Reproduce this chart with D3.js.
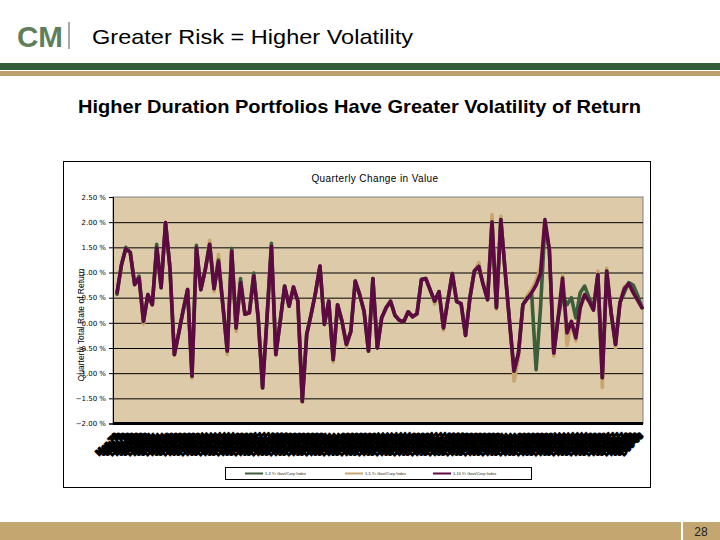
<!DOCTYPE html>
<html>
<head>
<meta charset="utf-8">
<script src="https://cdn.jsdelivr.net/npm/d3@7"></script>
<style>
  body { margin: 0; background: #fff; }
  svg { display: block; font-family: "Liberation Sans", Arial, sans-serif; }
</style>
</head>
<body>
<svg id="chart" width="720" height="540"></svg>
<script>
// Quarter labels along the x axis
const years = d3.range(1979, 2009);
const quarterMonths = ['Mar', 'Jun', 'Sep', 'Dec'];

// Quarterly total rate of return (%)
const shortSeries = [0.57, 1.15, 1.50, 1.40, 0.76, 0.93, 0.03, 0.56, 0.36, 1.56,
  0.70, 1.99, 1.09, -0.63, -0.20, 0.25, 0.66, -1.06, 1.54, 0.66,
  1.05, 1.56, 0.68, 1.25, 0.35, -0.56, 1.48, -0.10, 0.88, 0.17,
  0.20, 0.99, 0.10, -1.29, 0.10, 1.58, -0.63, 0.03, 0.73, 0.33,
  0.71, 0.43, -1.56, -0.23, 0.17, 0.60, 1.13, -0.03, 0.43, -0.73,
  0.36, 0.03, -0.43, -0.17, 0.83, 0.56, 0.23, -0.56, 0.88, -0.50,
  0.10, 0.30, 0.43, 0.15, 0.05, 0.02, 0.22, 0.12, 0.18, 0.87,
  0.88, 0.65, 0.43, 0.62, -0.10, 0.45, 0.98, 0.42, 0.38, -0.25,
  0.50, 1.03, 1.12, 0.76, 0.46, 2.00, 0.30, 2.05, 1.00, 0.00,
  -0.96, -0.60, 0.36, 0.50, 0.56, -0.93, 0.30, 1.95, 1.45, -0.60,
  0.10, 0.55, 0.36, 0.50, 0.10, 0.60, 0.73, 0.50, 0.30, 0.96,
  -1.09, 1.03, 0.20, -0.43, 0.40, 0.60, 0.80, 0.75, 0.55, 0.30];

const midSeries = [0.57, 1.15, 1.47, 1.40, 0.76, 0.89, -0.02, 0.56, 0.36, 1.49,
  0.70, 1.99, 1.09, -0.65, -0.20, 0.25, 0.66, -1.10, 1.49, 0.66,
  1.05, 1.64, 0.62, 1.36, 0.35, -0.63, 1.42, -0.17, 0.80, 0.17,
  0.20, 0.93, 0.10, -1.30, 0.10, 1.52, -0.65, 0.03, 0.73, 0.33,
  0.71, 0.43, -1.58, -0.23, 0.17, 0.60, 1.13, -0.03, 0.43, -0.78,
  0.36, 0.03, -0.48, -0.17, 0.83, 0.56, 0.23, -0.56, 0.88, -0.50,
  0.10, 0.30, 0.43, 0.15, 0.05, 0.02, 0.22, 0.12, 0.18, 0.85,
  0.88, 0.65, 0.37, 0.62, -0.15, 0.45, 0.98, 0.42, 0.38, -0.25,
  0.50, 1.03, 1.20, 0.76, 0.46, 2.15, 0.27, 2.12, 1.00, 0.00,
  -1.16, -0.70, 0.36, 0.55, 0.66, 0.85, 1.10, 2.05, 1.45, -0.66,
  0.10, 0.95, -0.45, 0.03, -0.36, 0.30, 0.56, 0.43, 0.25, 1.03,
  -1.29, 1.09, 0.20, -0.50, 0.40, 0.72, 0.78, 0.60, 0.45, 0.30];

const longSeries = [0.60, 1.15, 1.47, 1.40, 0.76, 0.89, 0.03, 0.56, 0.36, 1.49,
  0.70, 1.99, 1.09, -0.63, -0.20, 0.25, 0.66, -1.06, 1.49, 0.66,
  1.05, 1.56, 0.68, 1.22, 0.35, -0.56, 1.42, -0.10, 0.80, 0.17,
  0.20, 0.93, 0.10, -1.29, 0.10, 1.52, -0.63, 0.03, 0.73, 0.33,
  0.71, 0.43, -1.56, -0.23, 0.17, 0.60, 1.13, -0.03, 0.43, -0.73,
  0.36, 0.03, -0.43, -0.17, 0.83, 0.56, 0.23, -0.56, 0.88, -0.50,
  0.10, 0.30, 0.43, 0.15, 0.05, 0.02, 0.22, 0.12, 0.18, 0.85,
  0.88, 0.65, 0.43, 0.62, -0.10, 0.45, 0.98, 0.42, 0.38, -0.25,
  0.50, 1.03, 1.12, 0.76, 0.46, 2.00, 0.30, 2.05, 1.00, 0.00,
  -0.96, -0.60, 0.36, 0.48, 0.60, 0.75, 0.98, 2.05, 1.45, -0.60,
  0.10, 0.89, -0.20, 0.03, -0.30, 0.30, 0.56, 0.43, 0.25, 0.96,
  -1.09, 1.03, 0.20, -0.43, 0.40, 0.68, 0.78, 0.60, 0.45, 0.30];

const seriesNames = ['1-3 Yr Govt/Corp Index', '1-5 Yr Govt/Corp Index', '1-10 Yr Govt/Corp Index'];
const seriesColors = ['#3d5e3a', '#c9a66f', '#5e0a42'];
const yTicks = [2.5, 2.0, 1.5, 1.0, 0.5, 0.0, -0.5, -1.0, -1.5, -2.0];

const categories = d3.cross(years, quarterMonths).map(([yr, m]) => `${m}-${String(yr).slice(2)}`);
const series = [
  { name: seriesNames[1], color: seriesColors[1], values: midSeries },
  { name: seriesNames[0], color: seriesColors[0], values: shortSeries },
  { name: seriesNames[2], color: seriesColors[2], values: longSeries }
];

const svg = d3.select('#chart');

// ---- slide header ----
svg.append('text')
    .attr('x', 17).attr('y', 47)
    .attr('font-size', 30).attr('font-weight', 'bold')
    .attr('textLength', 46).attr('lengthAdjust', 'spacingAndGlyphs')
    .attr('fill', '#5f7f5c')
    .text('CM');
svg.append('line')
    .attr('x1', 69).attr('x2', 69).attr('y1', 22).attr('y2', 49)
    .attr('stroke', '#555').attr('stroke-width', 1);
svg.append('text')
    .attr('x', 92).attr('y', 44)
    .attr('font-size', 21)
    .attr('textLength', 321).attr('lengthAdjust', 'spacingAndGlyphs')
    .attr('fill', '#000')
    .text('Greater Risk = Higher Volatility');
svg.append('rect').attr('x', 0).attr('y', 63).attr('width', 720).attr('height', 7).attr('fill', '#335c3b');
svg.append('rect').attr('x', 0).attr('y', 71).attr('width', 720).attr('height', 5).attr('fill', '#b9a06d');

svg.append('text')
    .attr('x', 78).attr('y', 113)
    .attr('font-size', 19).attr('font-weight', 'bold')
    .attr('textLength', 563).attr('lengthAdjust', 'spacingAndGlyphs')
    .text('Higher Duration Portfolios Have Greater Volatility of Return');

// ---- footer ----
svg.append('rect').attr('x', 0).attr('y', 522).attr('width', 681).attr('height', 18).attr('fill', '#c4a670');
svg.append('rect').attr('x', 683).attr('y', 522).attr('width', 37).attr('height', 18).attr('fill', '#c4a670');
svg.append('text')
    .attr('x', 701).attr('y', 536)
    .attr('text-anchor', 'middle').attr('font-size', 12)
    .attr('fill', '#222')
    .text('28');

// ---- chart frame ----
svg.append('rect')
    .attr('x', 63.5).attr('y', 161.5).attr('width', 587).attr('height', 326)
    .attr('fill', '#fff').attr('stroke', '#000').attr('stroke-width', 1);

svg.append('text')
    .attr('x', 375).attr('y', 182)
    .attr('text-anchor', 'middle').attr('font-size', 10)
    .attr('letter-spacing', 0.4)
    .text('Quarterly Change in Value');

const plot = { left: 113, right: 643, top: 197, bottom: 423.5 };

const x = d3.scalePoint().domain(categories).range([117, 642]);
const y = d3.scaleLinear().domain([-2, 2.5]).range([plot.bottom, plot.top]);

svg.append('rect')
    .attr('x', plot.left).attr('y', plot.top)
    .attr('width', plot.right - plot.left).attr('height', plot.bottom - plot.top)
    .attr('fill', '#dccaa9').attr('stroke', '#808080').attr('stroke-width', 1);

// gridlines
svg.append('g')
    .attr('transform', `translate(${plot.left},0)`)
    .call(d3.axisLeft(y).tickValues(yTicks.filter(d => d < 2.5 && d > -2)).tickSize(-(plot.right - plot.left)).tickFormat(''))
    .call(g => g.select('.domain').remove())
    .call(g => g.selectAll('line').attr('stroke', '#000').attr('stroke-width', 1));

// y axis
svg.append('g')
    .attr('transform', `translate(${plot.left},0)`)
    .call(d3.axisLeft(y).tickValues(yTicks).tickSize(4).tickPadding(3)
      .tickFormat(d => d3.format('.2f')(d) + ' %'))
    .call(g => g.selectAll('text').attr('font-size', 7).attr('font-family', '"DejaVu Sans", sans-serif').attr('fill', '#000'))
    .call(g => g.selectAll('line, path').attr('stroke', '#000'));

svg.append('text')
    .attr('transform', 'translate(84,325) rotate(-90)')
    .attr('text-anchor', 'middle').attr('font-size', 8.5)
    .text('Quarterly Total Rate of Return');

// series lines
const line = d3.line()
    .x((d, i) => x(categories[i]))
    .y(d => y(d));

svg.append('g')
  .selectAll('path')
  .data(series)
  .join('path')
    .attr('d', d => line(d.values))
    .attr('fill', 'none')
    .attr('stroke', d => d.color)
    .attr('stroke-width', 3.6)
    .attr('stroke-linejoin', 'round')
    .attr('stroke-linecap', 'round');

// x axis with crowded quarter labels (they merge into one dark band)
svg.append('g')
    .attr('transform', `translate(0,${plot.bottom})`)
    .call(d3.axisBottom(x).tickSize(0).tickPadding(0))
    .call(g => g.select('.domain').attr('d', `M${plot.left},0H${plot.right}`).attr('stroke', '#000').attr('stroke-width', 3))
    .call(g => g.selectAll('text')
      .attr('font-size', 8.5).attr('font-weight', 'bold').attr('fill', '#000')
      .attr('stroke', '#000').attr('stroke-width', 1.6)
      .attr('text-anchor', 'end').attr('dy', 0)
      .attr('transform', 'translate(1,13) rotate(-45)'));

// legend
const legend = svg.append('g');
legend.append('rect')
    .attr('x', 225.5).attr('y', 467.5).attr('width', 306).attr('height', 12)
    .attr('fill', '#fff').attr('stroke', '#000');
const legendOrder = [
  { name: seriesNames[0], color: seriesColors[0], x: 245 },
  { name: seriesNames[1], color: seriesColors[1], x: 345 },
  { name: seriesNames[2], color: seriesColors[2], x: 433 }
];
legend.selectAll('line')
  .data(legendOrder)
  .join('line')
    .attr('x1', d => d.x).attr('x2', d => d.x + 18)
    .attr('y1', 473.5).attr('y2', 473.5)
    .attr('stroke', d => d.color).attr('stroke-width', 2);
legend.selectAll('text')
  .data(legendOrder)
  .join('text')
    .attr('x', d => d.x + 20).attr('y', 475)
    .attr('font-size', 4).attr('fill', '#222')
    .text(d => d.name);
</script>
</body>
</html>
